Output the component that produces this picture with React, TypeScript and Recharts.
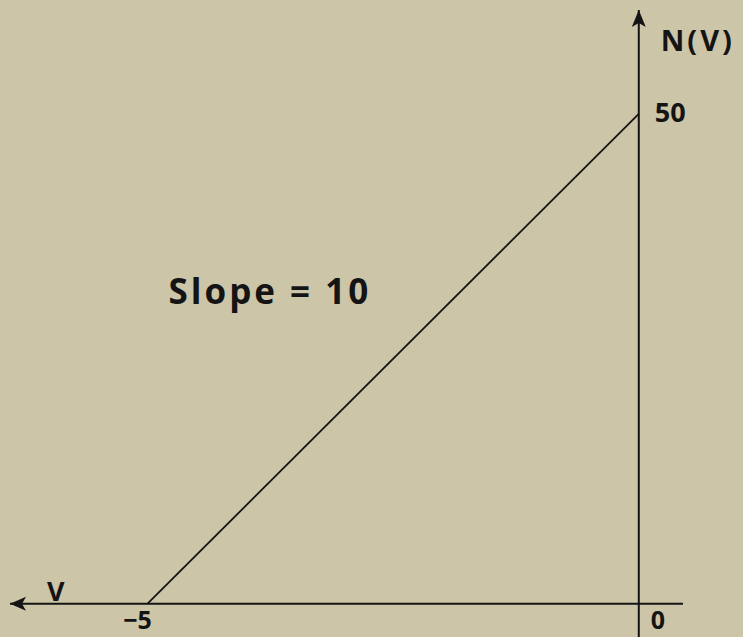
import React from 'react';
import { ComposedChart, Line, XAxis, YAxis, ReferenceLine, ReferenceDot } from 'recharts';

// axis extents (data units), arrowheads sit at the far ends
const vRange = [-6.4, 0.45];
const nRange = [-3.4, 60.6];

// N(V) rises linearly from V = -5 to V = 0
const lineV = [-5, 0];
const lineN = [0, 50];

const tickV = -5;
const tickN = 50;
const slopeText = 'Slope = 10';

const data = lineV.map((v, i) => ({ v, n: lineN[i] }));

const INK = '#141414';
const PAPER = '#cdc5a7';
const FONT = '"Open Sans", sans-serif';

const txt = (x: number, y: number, s: string, size: number, spacing = 0, anchor = 'start') => (
  <text x={x} y={y} fill={INK} fontFamily={FONT} fontWeight={700} fontSize={size}
    letterSpacing={spacing} textAnchor={anchor as any}>{s}</text>
);

export default function App() {
  return (
    <div style={{ position: 'absolute', left: 0, top: 0, width: 743, height: 637, background: PAPER }}>
      <ComposedChart width={743} height={637} data={data} margin={{ top: 10, right: 60, bottom: 0, left: 10 }}>
        <XAxis type="number" dataKey="v" domain={vRange} hide allowDataOverflow />
        <YAxis type="number" domain={nRange} hide allowDataOverflow />
        <ReferenceLine y={0} stroke={INK} strokeWidth={2} />
        <ReferenceLine x={0} stroke={INK} strokeWidth={2} />
        <Line dataKey="n" stroke={INK} strokeWidth={1.8} dot={false} isAnimationActive={false} />

        {/* arrowheads */}
        <ReferenceDot x={vRange[0]} y={0} r={0} shape={(p: any) => (
          <path d={`M${p.cx},${p.cy} L${p.cx + 16},${p.cy - 7} L${p.cx + 12},${p.cy} L${p.cx + 16},${p.cy + 7} Z`} fill={INK} />
        )} />
        <ReferenceDot x={0} y={nRange[1]} r={0} shape={(p: any) => (
          <path d={`M${p.cx},${p.cy} L${p.cx - 7},${p.cy + 17} L${p.cx},${p.cy + 13} L${p.cx + 7},${p.cy + 17} Z`} fill={INK} />
        )} />

        {/* axis names and tick labels */}
        <ReferenceDot x={0} y={nRange[1]} r={0} shape={(p: any) => txt(p.cx + 22, p.cy + 41, 'N(V)', 29, 3)} />
        <ReferenceDot x={vRange[0]} y={0} r={0} shape={(p: any) => txt(p.cx + 37, p.cy - 3, 'V', 27)} />
        <ReferenceDot x={0} y={tickN} r={0} shape={(p: any) => txt(p.cx + 16, p.cy + 8, String(tickN), 27, 0)} />
        <ReferenceDot x={tickV} y={0} r={0} shape={(p: any) => txt(p.cx - 10, p.cy + 25, '\u2212' + Math.abs(tickV), 25, 0, 'middle')} />
        <ReferenceDot x={0} y={0} r={0} shape={(p: any) => txt(p.cx + 19, p.cy + 25, '0', 25, 0, 'middle')} />

        {/* slope annotation */}
        <ReferenceDot x={tickV} y={tickN} r={0} shape={(p: any) => txt(p.cx + 21, p.cy + 190, slopeText, 35, 3)} />
      </ComposedChart>
    </div>
  );
}
